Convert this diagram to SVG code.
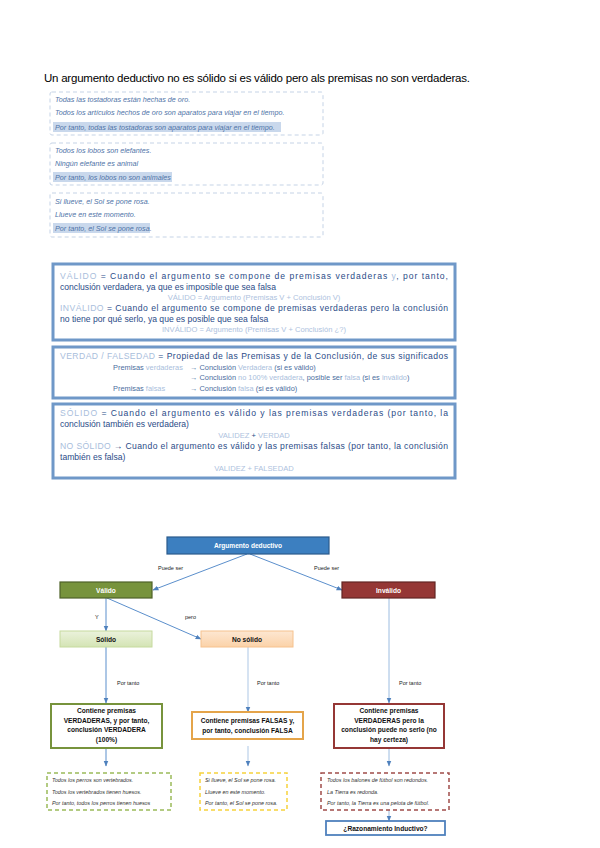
<svg xmlns="http://www.w3.org/2000/svg" width="600" height="848" viewBox="0 0 600 848">
<defs>
<style>
.title{font-family:"Liberation Sans",Arial,sans-serif;font-size:11.5px;fill:#000}
.ex{font-family:"Liberation Sans",Arial,sans-serif;font-size:7.2px;font-style:italic;fill:#4f74a8}
.dash{fill:none;stroke:#c5d3e6;stroke-width:1;stroke-dasharray:4 3}
.hl{fill:#c9d8ec}
.bb{fill:#fff;stroke:#6f98c8;stroke-width:3}
.bt{font-family:"Liberation Sans",Arial,sans-serif;font-size:8.6px;fill:#2b4c88}
.kw{fill:#a9bedc}
.ct{font-family:"Liberation Sans",Arial,sans-serif;font-size:7.6px;fill:#aec2de}
.st{font-family:"Liberation Sans",Arial,sans-serif;font-size:7.4px;fill:#4b6ea0}
.nb{font-family:"Liberation Sans",Arial,sans-serif;font-size:6.6px;font-weight:bold;text-anchor:middle}
.w{fill:#fff}
.k{fill:#111}
.lab{font-family:"Liberation Sans",Arial,sans-serif;font-size:5.5px;fill:#222}
.conn{stroke:#5b8fcc;stroke-width:1;fill:none}
.sm{font-family:"Liberation Sans",Arial,sans-serif;font-size:5.4px;font-style:italic;fill:#333}
</style>
<marker id="ah" viewBox="0 0 10 10" refX="9" refY="5" markerWidth="6" markerHeight="6" orient="auto">
<path d="M0,1 L10,5 L0,9 z" fill="#4f81bd"/>
</marker>
<linearGradient id="gs" x1="0" y1="0" x2="0" y2="1"><stop offset="0" stop-color="#ebf2dc"/><stop offset="1" stop-color="#d4e4b4"/></linearGradient>
<linearGradient id="go" x1="0" y1="0" x2="0" y2="1"><stop offset="0" stop-color="#fde7d2"/><stop offset="1" stop-color="#fbd2a8"/></linearGradient>
</defs>

<text class="title" x="44" y="82" textLength="426" lengthAdjust="spacing">Un argumento deductivo no es sólido si es válido pero als premisas no son verdaderas.</text>

<g id="ejemplos-superiores">
<rect class="dash" x="50" y="92" width="273" height="43" rx="2"/>
<rect class="hl" x="53" y="122" width="228" height="10"/>
<text class="ex" x="55" y="101.5">Todas las tostadoras están hechas de oro.</text>
<text class="ex" x="55" y="115">Todos los artículos hechos de oro son aparatos para viajar en el tiempo.</text>
<text class="ex" x="55" y="129.5">Por tanto, todas las tostadoras son aparatos para viajar en el tiempo.</text>

<rect class="dash" x="50" y="143" width="273" height="42" rx="2"/>
<rect class="hl" x="53" y="172" width="119" height="10"/>
<text class="ex" x="55" y="153">Todos los lobos son elefantes.</text>
<text class="ex" x="55" y="166">Ningún elefante es animal</text>
<text class="ex" x="55" y="179.5">Por tanto, los lobos no son animales</text>

<rect class="dash" x="50" y="193" width="273" height="44" rx="2"/>
<rect class="hl" x="53" y="223" width="97" height="10"/>
<text class="ex" x="55" y="204">Si llueve, el Sol se pone rosa.</text>
<text class="ex" x="55" y="217">Llueve en este momento.</text>
<text class="ex" x="55" y="230.5">Por tanto, el Sol se pone rosa.</text>
</g>

<g id="definiciones-validez">
<rect class="bb" x="53" y="264" width="402" height="76"/>
<text class="bt" x="60" y="279" textLength="388" lengthAdjust="spacing"><tspan class="kw">VÁLIDO</tspan> = Cuando el argumento se compone de premisas verdaderas <tspan class="kw">y</tspan>, por tanto,</text>
<text class="bt" x="60" y="290">conclusión verdadera, ya que es imposible que sea falsa</text>
<text class="ct" x="254" y="300" text-anchor="middle">VÁLIDO = Argumento (Premisas V + Conclusión V)</text>
<text class="bt" x="60" y="311" textLength="388" lengthAdjust="spacing"><tspan class="kw">INVÁLIDO</tspan> = Cuando el argumento se compone de premisas verdaderas pero la conclusión</text>
<text class="bt" x="60" y="322">no tiene por qué serlo, ya que es posible que sea falsa</text>
<text class="ct" x="254" y="332" text-anchor="middle">INVÁLIDO = Argumento (Premisas V + Conclusión ¿?)</text>
</g>

<g id="definiciones-verdad">
<rect class="bb" x="53" y="347" width="402" height="51"/>
<text class="bt" x="60" y="359" textLength="388" lengthAdjust="spacing"><tspan class="kw">VERDAD / FALSEDAD</tspan> = Propiedad de las Premisas y de la Conclusión, de sus significados</text>
<text class="st" x="113" y="369.5">Premisas <tspan class="kw">verdaderas</tspan></text>
<text class="st" x="190" y="369.5">→ Conclusión <tspan class="kw">Verdadera</tspan> (si es válido)</text>
<text class="st" x="190" y="380">→ Conclusión <tspan class="kw">no 100% verdadera</tspan>, posible ser <tspan class="kw">falsa</tspan> (si es <tspan class="kw">inválido</tspan>)</text>
<text class="st" x="113" y="391">Premisas <tspan class="kw">falsas</tspan></text>
<text class="st" x="190" y="391">→ Conclusión <tspan class="kw">falsa</tspan> (si es válido)</text>
</g>

<g id="definiciones-solidez">
<rect class="bb" x="53" y="404" width="402" height="74"/>
<text class="bt" x="60" y="416" textLength="388" lengthAdjust="spacing"><tspan class="kw">SÓLIDO</tspan> = Cuando el argumento es válido y las premisas verdaderas (por tanto, la</text>
<text class="bt" x="60" y="427">conclusión también es verdadera)</text>
<text class="ct" x="254" y="437.5" text-anchor="middle">VALIDEZ <tspan fill="#2b4c88">+</tspan> VERDAD</text>
<text class="bt" x="60" y="449" textLength="388" lengthAdjust="spacing"><tspan class="kw">NO SÓLIDO</tspan> → Cuando el argumento es válido y las premisas falsas (por tanto, la conclusión</text>
<text class="bt" x="60" y="460">también es falsa)</text>
<text class="ct" x="254" y="470.5" text-anchor="middle">VALIDEZ + FALSEDAD</text>
</g>

<g id="connectors">
<line class="conn" x1="247" y1="554" x2="153" y2="590" marker-end="url(#ah)"/>
<line class="conn" x1="250" y1="554" x2="342" y2="590" marker-end="url(#ah)"/>
<line class="conn" x1="106" y1="598" x2="106" y2="631" marker-end="url(#ah)"/>
<line class="conn" x1="107" y1="598" x2="201" y2="639" marker-end="url(#ah)"/>
<line class="conn" x1="106" y1="647" x2="106" y2="703" marker-end="url(#ah)"/>
<line class="conn" x1="248" y1="647" x2="248" y2="712" marker-end="url(#ah)" stroke-opacity="0.5"/>
<line class="conn" x1="389" y1="598" x2="389" y2="703" marker-end="url(#ah)" stroke-opacity="0.6"/>
<line class="conn" x1="106" y1="748" x2="106" y2="766" marker-end="url(#ah)"/>
<line class="conn" x1="248" y1="746" x2="248" y2="766" marker-end="url(#ah)" stroke-opacity="0.5"/>
<line class="conn" x1="389" y1="748" x2="389" y2="766" marker-end="url(#ah)" stroke-opacity="0.6"/>
<line class="conn" x1="389" y1="810" x2="389" y2="821" marker-end="url(#ah)" stroke-opacity="0.6"/>
<text class="lab" x="158" y="570">Puede ser</text>
<text class="lab" x="314" y="570">Puede ser</text>
<text class="lab" x="95" y="619">Y</text>
<text class="lab" x="185" y="619">pero</text>
<text class="lab" x="117" y="685">Por tanto</text>
<text class="lab" x="257" y="685">Por tanto</text>
<text class="lab" x="399" y="685">Por tanto</text>
</g>

<g id="n-argumento">
<rect x="167" y="537" width="162" height="17" fill="#3c7fc0" stroke="#2a5a8c" stroke-width="1.2"/>
<text class="nb w" x="248" y="548">Argumento deductivo</text>
</g>
<g id="n-valido">
<rect x="60" y="582" width="92" height="16" fill="#77933c" stroke="#4f6228" stroke-width="1.2"/>
<text class="nb w" x="106" y="592.5">Válido</text>
</g>
<g id="n-invalido">
<rect x="342" y="582" width="93" height="16" fill="#953735" stroke="#632523" stroke-width="1.2"/>
<text class="nb w" x="388.5" y="592.5">Inválido</text>
</g>
<g id="n-solido">
<rect x="60" y="631" width="92" height="16" fill="url(#gs)" stroke="#c6da9e" stroke-width="1"/>
<text class="nb k" x="106" y="641.5">Sólido</text>
</g>
<g id="n-nosolido">
<rect x="201" y="631" width="92" height="16" fill="url(#go)" stroke="#f6c28e" stroke-width="1"/>
<text class="nb k" x="247" y="641.5">No sólido</text>
</g>

<g id="n-verdadera">
<rect x="51" y="704" width="111" height="44" fill="#fff" stroke="#77933c" stroke-width="2"/>
<text class="nb k" x="106.5" y="713">Contiene premisas</text>
<text class="nb k" x="106.5" y="722.5">VERDADERAS, y por tanto,</text>
<text class="nb k" x="106.5" y="732">conclusión VERDADERA</text>
<text class="nb k" x="106.5" y="741.5">(100%)</text>
</g>
<g id="n-falsa">
<rect x="192" y="712" width="111" height="27" fill="#fff" stroke="#e4a44a" stroke-width="2"/>
<text class="nb k" x="247.5" y="723">Contiene premisas FALSAS y,</text>
<text class="nb k" x="247.5" y="732.5">por tanto, conclusión FALSA</text>
</g>
<g id="n-incierta">
<rect x="334" y="704" width="110" height="44" fill="#fff" stroke="#953735" stroke-width="2"/>
<text class="nb k" x="389" y="713">Contiene premisas</text>
<text class="nb k" x="389" y="722.5">VERDADERAS pero la</text>
<text class="nb k" x="389" y="732">conclusión puede no serlo (no</text>
<text class="nb k" x="389" y="741.5">hay certeza)</text>
</g>

<g id="n-ej-verde">
<rect x="47" y="773" width="124" height="37" fill="none" stroke="#9bbb59" stroke-width="1.5" stroke-dasharray="4 3"/>
<text class="sm" x="52" y="782">Todos los perros son vertebrados.</text>
<text class="sm" x="52" y="793.5">Todos los vertebrados tienen huesos.</text>
<text class="sm" x="52" y="805">Por tanto, todos los perros tienen huesos</text>
</g>
<g id="n-ej-amarillo">
<rect x="200" y="773" width="87" height="37" fill="none" stroke="#f6d23c" stroke-width="1.5" stroke-dasharray="4 3"/>
<text class="sm" x="205" y="782">Si llueve, el Sol se pone rosa.</text>
<text class="sm" x="205" y="793.5">Llueve en este momento.</text>
<text class="sm" x="205" y="805">Por tanto, el Sol se pone rosa.</text>
</g>
<g id="n-ej-rojo">
<rect x="321" y="773" width="128" height="37" fill="none" stroke="#a04c4a" stroke-width="1.5" stroke-dasharray="4 3"/>
<text class="sm" x="327" y="782">Todos los balones de fútbol son redondos.</text>
<text class="sm" x="327" y="793.5">La Tierra es redonda.</text>
<text class="sm" x="327" y="805">Por tanto, la Tierra es una pelota de fútbol.</text>
</g>
<g id="n-inductivo">
<rect x="326" y="821" width="119" height="14" fill="#fff" stroke="#4f81bd" stroke-width="1.8"/>
<text class="nb k" x="385.5" y="830.5">¿Razonamiento Inductivo?</text>
</g>
</svg>
